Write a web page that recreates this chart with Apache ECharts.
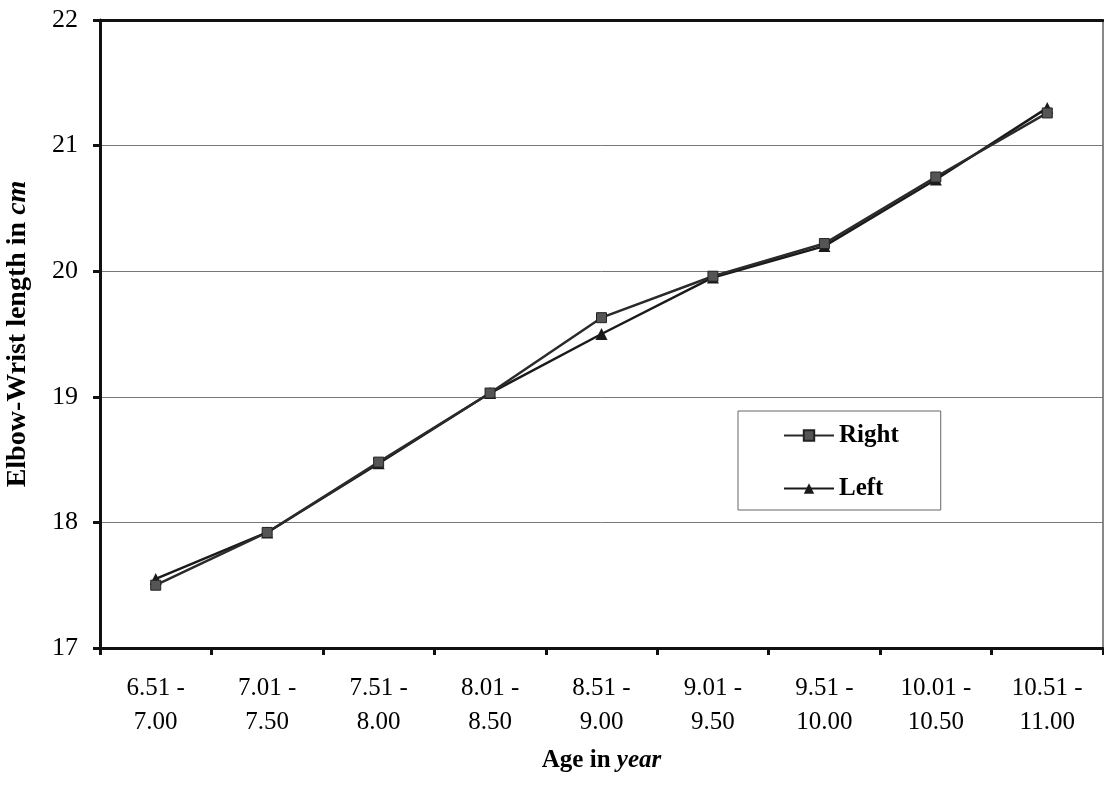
<!DOCTYPE html>
<html>
<head>
<meta charset="utf-8">
<script src="https://cdn.jsdelivr.net/npm/echarts@6/dist/echarts.min.js"></script>
<style>html,body{margin:0;padding:0;background:#fff;}#c{width:1104px;height:789px;}</style>
</head>
<body>
<div id="c"></div>
<script>
const categories = ['6.51 -\n7.00','7.01 -\n7.50','7.51 -\n8.00','8.01 -\n8.50','8.51 -\n9.00','9.01 -\n9.50','9.51 -\n10.00','10.01 -\n10.50','10.51 -\n11.00'];
const rightValues = [17.50, 17.92, 18.48, 19.03, 19.63, 19.96, 20.22, 20.75, 21.26];
const leftValues  = [17.55, 17.92, 18.47, 19.03, 19.50, 19.95, 20.20, 20.73, 21.30];
const yTicks = [17, 18, 19, 20, 21, 22];

const FONT = '"Liberation Serif", "Times New Roman", serif';
const chart = echarts.init(document.getElementById('c'));
chart.setOption({
  backgroundColor: '#fff',
  animation: false,
  grid: { left: 100, right: 1, top: 20, bottom: 141, containLabel: false, outerBoundsMode: 'none',
          show: true, borderColor: '#111', borderWidth: 1 },
  legend: {
    orient: 'vertical',
    left: 738, top: 411,
    padding: [12, 42, 9, 45],
    itemGap: 28,
    itemWidth: 50, itemHeight: 13,
    borderColor: '#666', borderWidth: 1,
    backgroundColor: '#fff',
    textStyle: { fontFamily: FONT, fontWeight: 'bold', fontSize: 25, color: '#000' },
    data: ['Right', 'Left']
  },
  xAxis: [{
    type: 'category',
    data: categories,
    boundaryGap: true,
    axisLine: { lineStyle: { color: '#111', width: 3 } },
    axisTick: { show: true, length: 7, lineStyle: { color: '#111', width: 3 } },
    axisLabel: { fontFamily: FONT, fontSize: 25, color: '#000', lineHeight: 34, margin: 23 },
    name: '{b|Age in }{bi|year}',
    nameLocation: 'middle',
    nameGap: 100,
    nameTextStyle: {
      rich: {
        b: { fontFamily: FONT, fontWeight: 'bold', fontSize: 25, color: '#000' },
        bi: { fontFamily: FONT, fontWeight: 'bold', fontStyle: 'italic', fontSize: 25, color: '#000' }
      }
    }
  }, {
    type: 'category',
    position: 'top',
    data: categories,
    axisLine: { lineStyle: { color: '#111', width: 3 } },
    axisTick: { show: false },
    axisLabel: { show: false }
  }],
  yAxis: {
    type: 'value',
    min: yTicks[0], max: yTicks[yTicks.length - 1], interval: 1,
    axisLine: { show: true, lineStyle: { color: '#111', width: 3 } },
    axisTick: { show: true, length: 7, lineStyle: { color: '#111', width: 3 } },
    axisLabel: { fontFamily: FONT, fontSize: 26, color: '#000', margin: 22 },
    splitLine: { show: true, lineStyle: { color: '#777', width: 1 } },
    name: '{b|Elbow-Wrist length in }{bi|cm}',
    nameLocation: 'middle',
    nameGap: 68,
    nameTextStyle: {
      rich: {
        b: { fontFamily: FONT, fontWeight: 'bold', fontSize: 28, color: '#000' },
        bi: { fontFamily: FONT, fontWeight: 'bold', fontStyle: 'italic', fontSize: 28, color: '#000' }
      }
    }
  },
  series: [{
    name: 'Right',
    type: 'line',
    data: rightValues,
    symbol: 'rect',
    symbolSize: 10,
    itemStyle: { color: '#555', borderColor: '#222', borderWidth: 1 },
    lineStyle: { color: '#2a2a2a', width: 2.5 },
    z: 3
  }, {
    name: 'Left',
    type: 'line',
    data: leftValues,
    symbol: 'triangle',
    symbolSize: 12,
    itemStyle: { color: '#1a1a1a' },
    lineStyle: { color: '#1a1a1a', width: 2.5 },
    z: 2
  }]
});
</script>
</body>
</html>
